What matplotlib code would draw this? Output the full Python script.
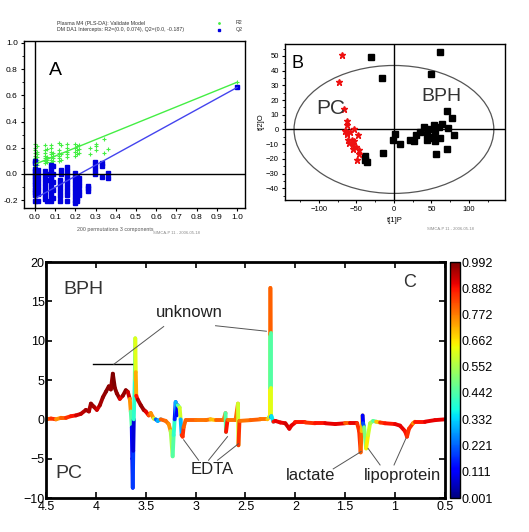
import matplotlib
matplotlib.use("Agg")
import matplotlib.pyplot as plt
from matplotlib.collections import LineCollection
from matplotlib.patches import Ellipse
from matplotlib.ticker import MultipleLocator
import numpy as np

plt.rcParams['font.family'] = ['Liberation Sans', 'DejaVu Sans']

# ---- panel A: permutation test (R2 green, Q2 blue) ----
r2_cols = {
    0.00: [0.06, 0.08, 0.10, 0.12, 0.14, 0.16, 0.18, 0.20, 0.23],
    0.01: [0.07, 0.09, 0.11, 0.13, 0.15, 0.17, 0.21],
    0.05: [0.08, 0.10, 0.12, 0.14, 0.16, 0.18, 0.22],
    0.06: [0.09, 0.11, 0.13, 0.19],
    0.08: [0.09, 0.11, 0.13, 0.15, 0.17, 0.20, 0.22],
    0.09: [0.10, 0.12, 0.14, 0.16],
    0.12: [0.10, 0.12, 0.14, 0.16, 0.18, 0.24],
    0.13: [0.11, 0.15, 0.22],
    0.16: [0.13, 0.15, 0.17, 0.20, 0.23],
    0.20: [0.14, 0.17, 0.20, 0.23],
    0.21: [0.15, 0.18, 0.21],
    0.22: [0.16, 0.19, 0.22],
    0.27: [0.15, 0.20],
    0.30: [0.18, 0.21, 0.23],
    0.34: [0.16, 0.27],
    0.36: [0.19],
}
q2_cols = {
    0.00: [0.10, 0.08, 0.04, 0.02, 0.0, -0.02, -0.04, -0.06, -0.08, -0.10, -0.12, -0.14, -0.16, -0.21],
    0.015: [0.03, 0.0, -0.03, -0.06, -0.09, -0.12, -0.15, -0.21],
    0.05: [0.02, -0.01, -0.04, -0.07, -0.10, -0.13, -0.16, -0.19],
    0.06: [-0.21, 0.0, -0.05],
    0.08: [0.07, 0.04, 0.01, -0.02, -0.05, -0.08, -0.11, -0.14, -0.17, -0.21],
    0.09: [0.06, 0.0, -0.06, -0.12, -0.18],
    0.125: [-0.05, -0.08, -0.11, -0.14, -0.17, -0.21],
    0.13: [0.03, 0.0],
    0.16: [0.05, 0.02, -0.01, -0.04, -0.07, -0.10, -0.13, -0.16, -0.21],
    0.20: [0.01, -0.02, -0.05, -0.08, -0.11, -0.14, -0.17, -0.20, -0.22],
    0.21: [-0.02, -0.15, -0.18, -0.21],
    0.22: [-0.03, -0.06, -0.09, -0.13, -0.16],
    0.265: [-0.09, -0.11, -0.13],
    0.295: [0.09, 0.06, 0.03, 0.0],
    0.33: [0.08, 0.06, -0.02],
    0.36: [0.01, -0.03],
}
r2_orig = (1.0, 0.70)
q2_orig = (1.0, 0.66)
r2_intercept = 0.074
q2_intercept = -0.187

# ---- panel B: scores ----
pc_t1 = [-69, -73, -67, -62, -63, -53, -62, -62, -48, -61, -56, -55, -50, -54, -47, -46, -49, -60, -53, -58, -65]
pc_t2 = [50.6, 32, 14, 6, 3, 0.6, -1.5, -3, -4, -7, -7, -10, -12, -13, -14, -17, -21, -9, -8, -2, -1]
bph_t1 = [-30, -16, 61, 49, 70, 77, 64, 60, 72, 53, 40, 47, 55, 35, 44, 80, 30, 52, 62, 47, 22, 27, 55, 44,
          70, 56, 1, -1, 8, -15, -38, -36, -39]
bph_t2 = [49, 35, 53, 37.5, 12.5, 8, 4, 2, 1, 3, 1.5, 0, -1, -2, -3, -4, -4, -5, -6, -6, -7, -8, -8, -7,
          -13, -17, -3, -7.5, -10, -16, -18, -22, -21]

# ---- panel C: loadings coloured by correlation ----
ppm = [4.50, 4.45, 4.40, 4.35, 4.30, 4.25, 4.20, 4.15, 4.10, 4.07, 4.05, 4.02, 3.99, 3.96, 3.93, 3.90,
       3.87, 3.85, 3.83, 3.81, 3.79, 3.76, 3.73, 3.70, 3.68, 3.66, 3.65, 3.64, 3.635, 3.63, 3.625, 3.62,
       3.61, 3.605, 3.60, 3.595, 3.58, 3.55, 3.52, 3.50, 3.47, 3.45, 3.42, 3.40, 3.38, 3.35, 3.30, 3.27,
       3.25, 3.23, 3.22, 3.21, 3.20, 3.19, 3.18, 3.16, 3.15, 3.14, 3.13, 3.12, 3.10, 3.00, 2.90, 2.85,
       2.80, 2.72, 2.70, 2.695, 2.68, 2.60, 2.575, 2.57, 2.56, 2.45, 2.35, 2.28, 2.26,
       2.252, 2.252, 2.252, 2.25, 2.247, 2.247, 2.247,
       2.24, 2.22, 2.20, 2.15, 2.10, 2.06, 2.04, 2.00, 1.90, 1.80, 1.70, 1.60, 1.50, 1.45, 1.38, 1.36,
       1.345, 1.335, 1.325, 1.32, 1.31, 1.29, 1.27, 1.25, 1.22, 1.19, 1.15, 1.10, 1.00, 0.95, 0.90, 0.88,
       0.86, 0.82, 0.80, 0.70, 0.60, 0.50]
load = [0.0, 0.1, 0.0, 0.2, 0.2, 0.4, 0.5, 0.7, 1.2, 1.0, 2.0, 1.6, 1.2, 1.8, 2.8, 3.5,
        4.2, 3.8, 5.8, 4.0, 3.3, 2.6, 3.0, 3.7, 3.5, 2.6, 1.0, -1.0, -5.0, -8.7, -4.0, 0.0,
        5.0, 10.3, 6.0, 3.0, 2.5, 1.8, 1.2, 1.0, 0.5, 0.8, 0.1, 0.0, -0.2, 0.0, -0.2, -0.6,
        -1.5, -4.7, -2.0, 0.0, 2.2, 0.5, 1.8, 1.5, 0.0, -2.0, -2.2, -1.0, -0.1, -0.1, -0.1, 0.0,
        -0.1, -0.1, 0.8, -1.6, -0.1, -0.1, 2.0, -3.3, -0.2, -0.1, 0.0, 0.0, 0.3,
        0.3, 4.0, 10.8, 16.7, 11.0, 4.0, 0.3,
        0.4, -0.3, -0.2, -0.4, -0.5, -1.2, -0.8, -0.4, -0.4, -0.5, -0.5, -0.6, -0.5, -0.5, -0.5, -1.5,
        -4.2, -1.5, 0.5, -0.5, -1.0, -3.7, -2.0, -0.5, -0.2, -0.3, -0.4, -0.5, -0.6, -0.8, -1.5, -2.2,
        -1.2, -0.5, -0.3, -0.3, -0.1, 0.0]
corr = [0.82, 0.85, 0.75, 0.80, 0.85, 0.88, 0.92, 0.94, 0.96, 0.95, 0.97, 0.95, 0.92, 0.96, 0.97, 0.98,
        0.98, 0.97, 0.99, 0.98, 0.97, 0.90, 0.97, 0.98, 0.92, 0.75, 0.45, 0.12, 0.10, 0.18, 0.08, 0.40,
        0.48, 0.62, 0.72, 0.88, 0.95, 0.97, 0.95, 0.90, 0.82, 0.75, 0.60, 0.22, 0.30, 0.80, 0.78, 0.75,
        0.55, 0.45, 0.40, 0.15, 0.30, 0.12, 0.45, 0.60, 0.30, 0.85, 0.85, 0.80, 0.80, 0.78, 0.78, 0.70,
        0.80, 0.78, 0.45, 0.88, 0.78, 0.78, 0.60, 0.85, 0.78, 0.80, 0.78, 0.70, 0.50,
        0.65, 0.48, 0.78, 0.80, 0.45, 0.62, 0.25,
        0.35, 0.88, 0.90, 0.90, 0.92, 0.90, 0.90, 0.88, 0.85, 0.88, 0.90, 0.90, 0.80, 0.90, 0.85, 0.85,
        0.80, 0.70, 0.12, 0.20, 0.50, 0.65, 0.60, 0.55, 0.45, 0.70, 0.85, 0.88, 0.90, 0.90, 0.88, 0.85,
        0.85, 0.75, 0.88, 0.90, 0.90, 0.88]
cbar_ticks = [0.001, 0.111, 0.221, 0.332, 0.442, 0.552, 0.662, 0.772, 0.882, 0.992]

fig = plt.figure(figsize=(5.29, 5.32), dpi=100)

# ================= A =================
axA = fig.add_axes([0.0454, 0.609, 0.418, 0.314])
for x, ys in r2_cols.items():
    axA.plot([x] * len(ys), ys, '+', color='#44ee44', ms=3, mew=0.8)
for x, ys in q2_cols.items():
    axA.plot([x] * len(ys), ys, 's', color='#0000dd', ms=3.5, mec='#0000dd')
axA.plot(*r2_orig, '+', color='#44ee44', ms=3, mew=0.8)
axA.plot(*q2_orig, 's', color='#0000dd', ms=3.5)
axA.plot([0, r2_orig[0]], [r2_intercept, r2_orig[1]], color='#44ee44', lw=1)
axA.plot([0, q2_orig[0]], [q2_intercept, q2_orig[1]], color='#4444ee', lw=1)
axA.axhline(0, color='black', lw=1)
axA.axvline(0, color='black', lw=1)
axA.set_xlim(-0.054, 1.04)
axA.set_ylim(-0.26, 1.015)
axA.xaxis.set_major_locator(MultipleLocator(0.1))
axA.yaxis.set_major_locator(MultipleLocator(0.2))
axA.yaxis.set_minor_locator(MultipleLocator(0.1))
axA.xaxis.set_major_formatter(matplotlib.ticker.FormatStrFormatter('%.1f'))
axA.yaxis.set_major_formatter(matplotlib.ticker.FormatStrFormatter('%.1f'))
axA.tick_params(labelsize=6, length=2.5, width=0.8, pad=2)
axA.tick_params(which='minor', length=1.5)
for s in axA.spines.values():
    s.set_linewidth(1)
axA.text(0.10, 0.79, 'A', fontsize=14, ha='center', va='center')
fig.text(57 / 529, 1 - 23 / 532, 'Plasma M4 (PLS-DA): Validate Model', fontsize=3.8, va='center', color='#333333')
fig.text(57 / 529, 1 - 30 / 532, 'DM DA1 Intercepts: R2=(0.0, 0.074), Q2=(0.0, -0.187)', fontsize=3.8,
         va='center', color='#333333')
fig.lines.append(plt.Line2D([219 / 529], [1 - 23 / 532], marker='.', color='#44ee44', ms=2,
                            transform=fig.transFigure))
fig.lines.append(plt.Line2D([219 / 529], [1 - 30 / 532], marker='s', color='#0000dd', ms=2,
                            transform=fig.transFigure))
fig.text(236 / 529, 1 - 23 / 532, 'R2', fontsize=3.8, va='center', color='#333333')
fig.text(236 / 529, 1 - 30 / 532, 'Q2', fontsize=3.8, va='center', color='#333333')
fig.text(77 / 529, 1 - 229 / 532, '200 permutations 3 components', fontsize=3.8, va='center', color='#555555')
fig.text(153 / 529, 1 - 233 / 532, 'SIMCA-P 11 - 2006-05-18', fontsize=3, va='center', color='#888888')

# ================= B =================
axB = fig.add_axes([0.5388, 0.624, 0.416, 0.293])
axB.add_patch(Ellipse((0, 0), 266, 87, fill=False, color='#555555', lw=0.9))
axB.axhline(0, color='black', lw=1)
axB.axvline(0, color='black', lw=1)
axB.plot(bph_t1, bph_t2, 's', color='black', ms=4)
axB.plot(pc_t1, pc_t2, '*', color='#ee1111', ms=5)
axB.set_xlim(-145, 148)
axB.set_ylim(-48, 58)
axB.xaxis.set_major_locator(MultipleLocator(50))
axB.xaxis.set_minor_locator(MultipleLocator(25))
axB.yaxis.set_major_locator(MultipleLocator(10))
axB.yaxis.set_minor_locator(MultipleLocator(5))
axB.tick_params(labelsize=5.5, length=2.5, width=0.8, pad=2)
axB.tick_params(which='minor', length=1.5)
for s in axB.spines.values():
    s.set_linewidth(1)
axB.set_xlabel('t[1]P', fontsize=5.5, labelpad=3)
axB.set_ylabel('t[2]O', fontsize=5.5, labelpad=1)
axB.text(-136, 45, 'B', fontsize=13, va='center')
axB.text(-103, 14, 'PC', fontsize=15, va='center', color='#333333')
axB.text(36, 22.7, 'BPH', fontsize=14, va='center', color='#333333')
fig.text(427 / 529, 1 - 229 / 532, 'SIMCA-P 11 - 2006-05-18', fontsize=3, va='center', color='#888888')

# ================= C =================
axC = fig.add_axes([0.087, 0.0639, 0.754, 0.4436])
cmap = plt.get_cmap('jet')
norm = matplotlib.colors.Normalize(0.001, 0.992)
pts = np.column_stack([ppm, load])
segs = np.stack([pts[:-1], pts[1:]], axis=1)
lc = LineCollection(segs, colors=cmap(norm(np.array(corr[:-1]))), linewidths=2.8, capstyle='round')
axC.add_collection(lc)
axC.set_xlim(4.5, 0.5)
axC.set_ylim(-10, 20)
axC.xaxis.set_major_locator(MultipleLocator(0.5))
axC.yaxis.set_major_locator(MultipleLocator(5))
axC.xaxis.set_major_formatter(matplotlib.ticker.FuncFormatter(lambda v, p: ('%g' % v)))
axC.tick_params(direction='in', top=True, right=True, labelsize=9, length=4, width=1.2, pad=1)
axC.tick_params(axis='x', pad=2.5)
for s in axC.spines.values():
    s.set_linewidth(2)

axC.text(4.12, 16.5, 'BPH', fontsize=14, ha='center', va='center', color='#333333')
axC.text(4.27, -6.9, 'PC', fontsize=14, ha='center', va='center', color='#333333')
axC.text(0.85, 17.4, 'C', fontsize=13, ha='center', va='center', color='#333333')
axC.text(3.06, 13.6, 'unknown', fontsize=12, ha='center', va='center', color='#222222')
axC.plot([4.03, 3.64], [7.0, 7.0], color='black', lw=1)
axC.plot([3.32, 3.82], [11.8, 7.0], color='#555555', lw=0.7)
axC.plot([2.80, 2.29], [11.9, 11.2], color='#555555', lw=0.7)
axC.text(2.83, -6.4, 'EDTA', fontsize=12, ha='center', va='center', color='#222222')
for x0, x1, y1 in [(2.97, 3.12, -2.6), (2.87, 2.68, -2.2), (2.78, 2.57, -3.1)]:
    axC.plot([x0, x1], [-5.2, y1], color='#555555', lw=0.7)
axC.text(1.85, -7.2, 'lactate', fontsize=12, ha='center', va='center', color='#222222')
axC.plot([1.62, 1.34], [-6.3, -4.1], color='#555555', lw=0.7)
axC.text(0.93, -7.2, 'lipoprotein', fontsize=12, ha='center', va='center', color='#222222')
axC.plot([1.15, 1.27], [-5.8, -3.7], color='#555555', lw=0.7)
axC.plot([1.01, 0.89], [-5.8, -2.4], color='#555555', lw=0.7)

cax = fig.add_axes([0.8507, 0.0639, 0.019, 0.4436])
cb = matplotlib.colorbar.ColorbarBase(cax, cmap=cmap, norm=norm, ticks=cbar_ticks)
cb.ax.set_yticklabels(['%.3f' % t for t in cbar_ticks])
cb.ax.tick_params(labelsize=9, length=0, pad=1)
cb.outline.set_linewidth(1)

fig.savefig('out.png', dpi=100)
